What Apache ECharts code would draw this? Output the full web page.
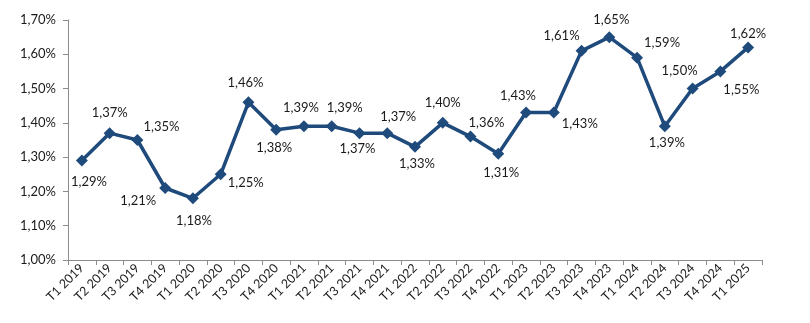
<!DOCTYPE html>
<html>
<head>
<meta charset="utf-8">
<script src="https://cdn.jsdelivr.net/npm/echarts@6/dist/echarts.min.js"></script>
<style>
  html, body { margin: 0; padding: 0; background: #fff; }
  #chart { width: 810px; height: 323px; }
</style>
</head>
<body>
<div id="chart"></div>
<script>
// Quarterly rate, in percent
const quarters = [
  'T1 2019', 'T2 2019', 'T3 2019', 'T4 2019',
  'T1 2020', 'T2 2020', 'T3 2020', 'T4 2020',
  'T1 2021', 'T2 2021', 'T3 2021', 'T4 2021',
  'T1 2022', 'T2 2022', 'T3 2022', 'T4 2022',
  'T1 2023', 'T2 2023', 'T3 2023', 'T4 2023',
  'T1 2024', 'T2 2024', 'T3 2024', 'T4 2024',
  'T1 2025'
];
const rates = [
  1.29, 1.37, 1.35, 1.21,
  1.18, 1.25, 1.46, 1.38,
  1.39, 1.39, 1.37, 1.37,
  1.33, 1.40, 1.36, 1.31,
  1.43, 1.43, 1.61, 1.65,
  1.59, 1.39, 1.50, 1.55,
  1.62
];
const yTicks = { min: 1.0, max: 1.7, step: 0.1 };

// Where each value label sits relative to its marker (px)
const labelOffsets = [
  [7, 21], [0, -20], [24, -13], [-27, 13],
  [1, 23], [25, 9], [-3, -19], [-2, 18],
  [-3, -18], [13, -18], [-2, 16], [11, -16],
  [2, 17], [0, -20], [16, -14], [3, 19],
  [-8, -17], [26, 11], [-20, -15], [2, -17],
  [25, -15], [2, 17], [-13, -18], [21, 18],
  [0, -14]
];

const fmt = v => v.toFixed(2).replace('.', ',') + '%';
const FONT = 'Lato, "Open Sans", sans-serif';
const LINE = '#1f4a7c';

const chart = echarts.init(document.getElementById('chart'));
chart.setOption({
  animation: false,
  grid: { left: 68, right: 48, top: 20, bottom: 63 },
  xAxis: {
    type: 'category',
    data: quarters,
    boundaryGap: true,
    axisLine: { lineStyle: { color: '#8c8c8c' } },
    axisTick: { show: true, alignWithLabel: false, length: 5, lineStyle: { color: '#8c8c8c' } },
    axisLabel: {
      rotate: 45, interval: 0, color: '#1a1a1a',
      fontFamily: FONT, fontSize: 12.5, margin: 6
    },
    splitLine: { show: false }
  },
  yAxis: {
    type: 'value',
    min: yTicks.min, max: yTicks.max, interval: yTicks.step,
    axisLine: { show: true, lineStyle: { color: '#8c8c8c' } },
    axisTick: { show: true, length: 5, lineStyle: { color: '#8c8c8c' } },
    axisLabel: {
      color: '#1a1a1a', fontFamily: FONT, fontSize: 13, margin: 12,
      formatter: v => fmt(v)
    },
    splitLine: { show: false }
  },
  series: [{
    type: 'line',
    data: rates.map((v, i) => ({
      value: v,
      label: { offset: labelOffsets[i] }
    })),
    lineStyle: { color: LINE, width: 3.5 },
    itemStyle: { color: LINE },
    symbol: 'diamond',
    symbolSize: 12,
    label: {
      show: true, position: 'inside',
      color: '#1a1a1a', fontFamily: FONT, fontSize: 13,
      formatter: p => fmt(p.value)
    }
  }]
});
</script>
</body>
</html>
